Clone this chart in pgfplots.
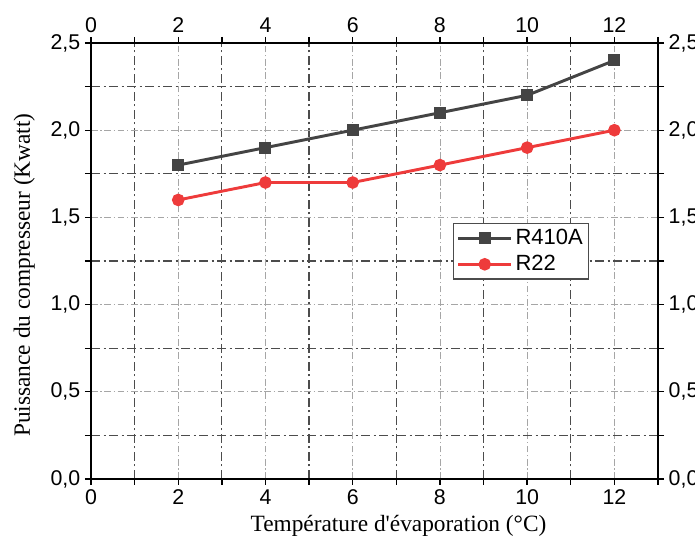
\documentclass[border=0pt]{standalone}
\usepackage{fontspec}
\setmainfont{Liberation Serif}
\newfontfamily\arial{Liberation Sans}
\usepackage{pgfplots}
\pgfplotsset{compat=1.18}

\definecolor{darkser}{HTML}{444444}
\definecolor{redser}{HTML}{EE3B3B}

\newcommand\tickfont{\arial\fontsize{16}{19}\selectfont}

\pgfplotsset{
  common/.style={
    width=425.25pt, height=327pt, scale only axis,
    xmin=0, xmax=13, ymin=0, ymax=2.5,
    xtick={0,2,...,12}, minor xtick={1,3,...,13},
    ytick={0,0.5,...,2.5}, minor ytick={0.25,0.75,...,2.25},
    tick align=outside,
    major tick length=4.5pt, minor tick length=4.5pt,
    every tick/.style={black, line width=1pt},
    axis line style={line width=1.3pt},
    /pgf/number format/assume math mode=true,
    xticklabel={\tickfont\pgfmathprintnumber{\tick}},
    yticklabel={\tickfont\pgfmathprintnumber[fixed, fixed zerofill, precision=1, use comma]{\tick}},
  },
}

\begin{document}
\begin{tikzpicture}
\begin{axis}[common,
    axis x line*=bottom, axis y line*=left,
    grid=both,
    major grid style={gray!70, line width=0.6pt, dash pattern=on 5pt off 2pt on 1pt off 2pt},
    minor grid style={black!70, line width=0.9pt, dash pattern=on 7pt off 2.5pt on 1.5pt off 2.5pt},
    xlabel={Température d\textquotesingle évaporation (°C)},
    ylabel={Puissance du compresseur (Kwatt)},
    label style={font=\fontsize{17.5}{20}\selectfont},
    xlabel style={yshift=-1pt, xshift=18pt},
    ylabel style={yshift=5pt, xshift=-10.5pt},
    legend style={at={(0.638,0.587)}, anchor=north west, draw=black!70, line width=0.8pt,
      font=\arial\fontsize{16.5}{19}\selectfont, row sep=2.5pt, inner sep=2.5pt},
    legend image code/.code={
      \draw[#1, mark repeat=2, mark phase=2] plot coordinates {(0pt,0pt) (20pt,0pt) (40pt,0pt)};},
    legend cell align=left,
  ]
  \addplot[darkser, line width=2.2pt, mark=square*, mark size=3.4pt] coordinates {
    (2,1.8) (4,1.9) (6,2.0) (8,2.1) (10,2.2) (12,2.4)};
  \addlegendentry{R410A}
  \addplot[redser, line width=2.2pt, mark=*, mark size=3.6pt] coordinates {
    (2,1.6) (4,1.7) (6,1.7) (8,1.8) (10,1.9) (12,2.0)};
  \addlegendentry{R22}
\end{axis}
\begin{axis}[common,
    axis x line*=top, axis y line*=right,
  ]
  \addplot[draw=none] coordinates {(0,0)};
\end{axis}
\pgfresetboundingbox
\useasboundingbox (-68.25pt,-46.5pt) rectangle (453pt,359.25pt);
\end{tikzpicture}
\end{document}
